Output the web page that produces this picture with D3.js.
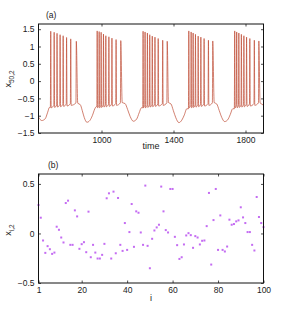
<!DOCTYPE html>
<html lang="en">
<head>
    <meta charset="UTF-8">
    <title>x50,2 time series and x_i,2</title>
    <script type="text/javascript" src="https://cdn.jsdelivr.net/npm/d3@7"></script>
    <style>
        body { margin: 0; background: #fff; }
        text { font-family: "Liberation Sans", Arial, sans-serif; fill: #222; }
    </style>
</head>
<body>
    <script type="text/javascript">

        var w = 291;
        var h = 319;

        // panel (a): spike times and peak heights of each burst
        var spikeTimes = [
            [718, 737, 753, 770, 787, 806, 829, 860],
            [976, 987, 998, 1011, 1024, 1041, 1058, 1081, 1107],
            [1231, 1242, 1255, 1268, 1282, 1297, 1315, 1340, 1365],
            [1485, 1498, 1509, 1522, 1537, 1552, 1570, 1594, 1618],
            [1740, 1751, 1763, 1777, 1791, 1806, 1824, 1849, 1874]
        ];
        var spikePeaks = [
            [1.44, 1.41, 1.38, 1.34, 1.31, 1.26, 1.22, 1.15],
            [1.45, 1.43, 1.41, 1.36, 1.31, 1.28, 1.24, 1.20, 1.17],
            [1.44, 1.42, 1.39, 1.34, 1.30, 1.27, 1.23, 1.18, 1.15],
            [1.45, 1.42, 1.39, 1.35, 1.30, 1.27, 1.23, 1.18, 1.16],
            [1.45, 1.42, 1.39, 1.35, 1.31, 1.27, 1.23, 1.18, 1.16]
        ];
        // minimum between two spikes of a burst
        var spikeTroughs = [
            [-0.77, -0.76, -0.75, -0.74, -0.73, -0.72, -0.70],
            [-0.77, -0.77, -0.76, -0.75, -0.74, -0.73, -0.72, -0.70],
            [-0.77, -0.77, -0.76, -0.75, -0.74, -0.73, -0.72, -0.70],
            [-0.77, -0.77, -0.76, -0.75, -0.74, -0.73, -0.72, -0.70],
            [-0.77, -0.77, -0.76, -0.75, -0.74, -0.73, -0.72, -0.70]
        ];
        // slow wave before, between and after the bursts
        var slowTimes = [
            [650, 668, 687, 701, 711],
            [868, 882, 893, 904, 919, 935, 949, 963, 971],
            [1115, 1131, 1145, 1159, 1177, 1195, 1209, 1222],
            [1372, 1386, 1399, 1413, 1430, 1446, 1460, 1474],
            [1626, 1640, 1654, 1668, 1684, 1701, 1715, 1729],
            [1881, 1889, 1900]
        ];
        var slowValues = [
            [-1.04, -1.14, -1.09, -0.90, -0.76],
            [-0.64, -0.68, -0.85, -1.05, -1.19, -1.14, -1.00, -0.80, -0.74],
            [-0.62, -0.65, -0.82, -1.02, -1.16, -1.10, -0.92, -0.77],
            [-0.62, -0.66, -0.85, -1.06, -1.20, -1.13, -0.98, -0.80],
            [-0.62, -0.66, -0.85, -1.05, -1.17, -1.12, -0.97, -0.80],
            [-0.63, -0.66, -0.70]
        ];
        var topXTicks = [1000, 1400, 1800];
        var topYTicks = [-1.5, -1, -0.5, 0, 0.5, 1, 1.5];

        // panel (b): x_i,2 for i = 1..100
        var nodeValues = [
            0.287, 0.159, -0.071, -0.196, -0.128, -0.159, -0.206, -0.193, 0.068, 0.037,
            -0.041, -0.091, 0.307, 0.331, -0.115, -0.115, 0.233, 0.172, -0.155, -0.108,
            -0.088, -0.189, 0.220, -0.240, -0.115, -0.193, -0.253, -0.253, -0.216, -0.105,
            0.355, 0.405, -0.253, 0.422, -0.200, 0.358, -0.115, -0.176, 0.105, -0.166,
            0.014, 0.297, -0.135, 0.223, 0.209, 0.010, -0.115, 0.483, -0.125, -0.351,
            -0.054, 0.030, 0.061, 0.088, 0.473, 0.223, 0.034, 0.010, 0.449, 0.449,
            -0.034, -0.118, -0.257, -0.240, -0.111, -0.020, 0.003, -0.017, -0.145, -0.027,
            -0.041, -0.111, -0.074, -0.071, 0.074, 0.409, -0.314, 0.135, 0.449, -0.166,
            0.182, -0.166, -0.182, -0.132, 0.139, 0.088, 0.095, 0.122, 0.132, 0.264,
            0.162, 0.105, 0.014, 0.014, -0.115, -0.172, 0.368, 0.166, 0.105, 0.064
        ];
        var botXTicks = [1, 20, 40, 60, 80, 100];
        var botYTicks = [-0.5, 0, 0.5];

        var svg = d3.select("body")
                    .append("svg")
                    .attr("width", w)
                    .attr("height", h);

        // build trace vertices from the read values
        var trace = [];
        for (var b = 0; b <= spikeTimes.length; b++) {
            for (var k = 0; k < slowTimes[b].length; k++) {
                trace.push([slowTimes[b][k], slowValues[b][k]]);
            }
            if (b == spikeTimes.length) break;
            var ts = spikeTimes[b], hs = spikePeaks[b], tr = spikeTroughs[b];
            for (var i = 0; i < ts.length; i++) {
                var before = i == 0 ? slowValues[b][slowValues[b].length - 1] : tr[i - 1] + 0.07;
                trace.push([ts[i] - 2, before]);
                trace.push([ts[i], hs[i]]);
                if (i < ts.length - 1) {
                    trace.push([ts[i] + 2.5, tr[i]]);
                }
            }
        }

        function frame(g, x, y, xt, yt, fmtX, fmtY) {
            var x0 = x.range()[0], x1 = x.range()[1];
            var y0 = y.range()[0], y1 = y.range()[1];
            var tl = 2.5;
            g.append("g").attr("transform", "translate(0," + y0 + ")")
                .call(d3.axisBottom(x).tickValues(xt).tickSize(-tl).tickPadding(4).tickFormat(fmtX));
            g.append("g").attr("transform", "translate(0," + y1 + ")")
                .call(d3.axisTop(x).tickValues(xt).tickSize(-tl).tickFormat(""));
            g.append("g").attr("transform", "translate(" + x0 + ",0)")
                .call(d3.axisLeft(y).tickValues(yt).tickSize(-tl).tickPadding(4).tickFormat(fmtY));
            g.append("g").attr("transform", "translate(" + x1 + ",0)")
                .call(d3.axisRight(y).tickValues(yt).tickSize(-tl).tickFormat(""));
            g.selectAll(".domain").remove();
            g.selectAll(".tick line").attr("stroke", "#222").attr("stroke-width", 0.8);
            g.selectAll(".tick text").attr("font-size", 8.5).attr("fill", "#222")
                .attr("font-family", "'Liberation Sans', Arial, sans-serif");
            g.append("rect")
                .attr("x", x0).attr("y", y1)
                .attr("width", x1 - x0).attr("height", y0 - y1)
                .attr("fill", "none").attr("stroke", "#111").attr("stroke-width", 1);
        }

        function fmtNum(d) { return String(d).replace("-", "\u2212"); }

        // ---- panel (a)
        var xA = d3.scaleLinear().domain([650, 1900]).range([38.5, 263.5]);
        var yA = d3.scaleLinear().domain([-1.5, 1.65]).range([133, 24]);

        var gA = svg.append("g");
        gA.append("defs").append("clipPath").attr("id", "clipA")
            .append("rect").attr("x", 38.5).attr("y", 24).attr("width", 225).attr("height", 109);

        var line = d3.line()
            .x(function(d) { return xA(d[0]); })
            .y(function(d) { return yA(d[1]); })
            .curve(d3.curveMonotoneX);

        gA.append("path")
            .datum(trace)
            .attr("clip-path", "url(#clipA)")
            .attr("d", line)
            .attr("fill", "none")
            .attr("stroke", "#bf4a33")
            .attr("stroke-width", 0.7);

        frame(gA, xA, yA, topXTicks, topYTicks, d3.format("d"), fmtNum);

        gA.append("text").attr("x", 46).attr("y", 17.5).attr("font-size", 8.5).text("(a)");
        gA.append("text").attr("x", 151).attr("y", 149).attr("text-anchor", "middle")
            .attr("font-size", 9).text("time");
        var yla = gA.append("text").attr("transform", "translate(11,79) rotate(-90)")
            .attr("text-anchor", "middle").attr("font-size", 9);
        yla.append("tspan").text("x");
        yla.append("tspan").attr("font-size", 6.5).attr("dy", 2.5).text("50,2");

        // ---- panel (b)
        var xB = d3.scaleLinear().domain([1, 100]).range([38.5, 263.5]);
        var yB = d3.scaleLinear().domain([-0.5, 0.6]).range([283, 174]);

        var gB = svg.append("g");
        gB.selectAll("rect.pt")
            .data(nodeValues)
            .enter()
            .append("rect")
            .attr("class", "pt")
            .attr("x", function(d, i) { return xB(i + 1) - 1; })
            .attr("y", function(d) { return yB(d) - 1; })
            .attr("width", 2)
            .attr("height", 2)
            .attr("fill", "#c46cf2");

        frame(gB, xB, yB, botXTicks, botYTicks, d3.format("d"), fmtNum);

        gB.append("text").attr("x", 48).attr("y", 168).attr("font-size", 8.5).text("(b)");
        gB.append("text").attr("x", 151).attr("y", 301).attr("text-anchor", "middle")
            .attr("font-size", 9).text("i");
        var ylb = gB.append("text").attr("transform", "translate(11,230) rotate(-90)")
            .attr("text-anchor", "middle").attr("font-size", 9);
        ylb.append("tspan").text("x");
        ylb.append("tspan").attr("font-size", 6.5).attr("dy", 2.5).text("i,2");

    </script>
</body>
</html>
